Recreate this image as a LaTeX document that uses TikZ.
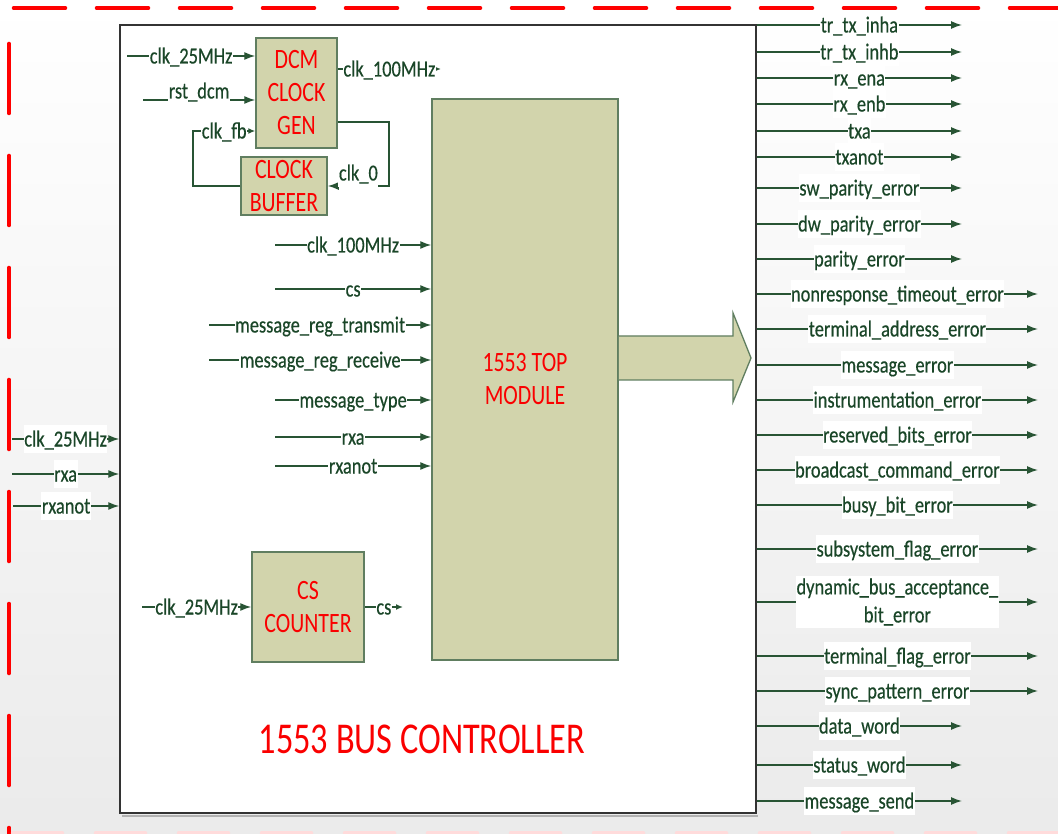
\documentclass[tikz,border=0pt]{standalone}
\usepackage{fontspec}
\setmainfont{Carlito}
\newfontfamily\lblfont{Carlito}[FakeStretch=0.80, FakeBold=0.4]
\newfontfamily\redfont{Carlito}[FakeStretch=0.78]
\usetikzlibrary{arrows.meta}
\definecolor{txtg}{RGB}{26,70,40}
\definecolor{lineg}{RGB}{40,84,52}
\definecolor{boxf}{RGB}{210,212,172}
\definecolor{boxb}{RGB}{96,126,96}
\definecolor{redt}{RGB}{250,0,0}
\begin{document}
\begin{tikzpicture}[x=1pt,y=-1pt,
  sig/.style={draw=lineg, line width=1.4pt, -{Latex[length=11pt,width=8pt]}},
  sigs/.style={draw=lineg, line width=1.4pt, -{Latex[length=7pt,width=6pt]}},
  lblbase/.style={fill=white, text=txtg, inner xsep=0.5pt, inner ysep=4.5pt, font=\lblfont\fontsize{23}{28}\selectfont},
  lbl/.style={lblbase, text height=17pt, text depth=2pt},
  blk/.style={draw=boxb, line width=1.5pt, fill=boxf, text=redt, align=center, font=\redfont\fontsize{28}{33}\selectfont, inner sep=0pt},
  reddash/.style={draw=red, line width=3.5pt, line cap=round}
]
\useasboundingbox (0,0) rectangle (1058,834);
\fill[top color=white, bottom color=black!8] (0,0) rectangle (1058,834);
% red dashed frame
\draw[reddash, dash pattern=on 52pt off 31pt] (13.5,8) -- (1058,8);
\draw[reddash, dash pattern=on 70pt off 42pt] (9,43.5) -- (9,834);
\draw[reddash, draw=red!14, dash pattern=on 50pt off 33pt] (12.5,833) -- (1058,833);
% main box
\draw[black!30, line width=2pt] (122,815.5) -- (758,815.5);
\node[draw=black!80, line width=1.5pt, fill=white, minimum width=636pt, minimum height=788pt, inner sep=0pt] (main) at (438,419) {};
\node[font=\redfont\fontsize{44}{50}\selectfont, text=redt, inner sep=0pt] (title) at (422,739) {1553 BUS CONTROLLER};
% blocks
\node[blk, minimum width=81pt, minimum height=110pt] (dcm) at (296.5,93) {DCM\\CLOCK\\GEN};
\node[blk, minimum width=86pt, minimum height=58pt] (buf) at (284,186) {CLOCK\\BUFFER};
\node[blk, minimum width=112pt, minimum height=110pt] (csc) at (308,607) {CS\\COUNTER};
\node[blk, minimum width=186pt, minimum height=561pt] (top) at (525,379.5) {1553 TOP\\MODULE};
% fat arrow
\draw[draw=boxb, fill=boxf, line width=1.3pt] (top.east |- 0,336) -- (733,336) -- (733,313) -- (751,358) -- (733,402) -- (733,380) -- (top.east |- 0,380);
% DCM inputs
\coordinate (d1) at (127,56);
\coordinate (d2) at (143,100);
\draw[sig] (d1) -- node[lbl] {clk\_25MHz} (d1 -| dcm.west);
\draw[sig] (d2) -- node[lbl, yshift=9pt] {rst\_dcm} (d2 -| dcm.west);
\coordinate (f1) at (193,131);
\draw[sigs] (buf.west) -| (f1) -- node[lbl] {clk\_fb} (f1 -| dcm.west);
\coordinate (k1) at (389,122);
\coordinate (k2) at (389,186);
\draw[sig] (k1 -| dcm.east) -- (k1) -- (k2) -- node[lbl, yshift=13pt] {clk\_0} (k2 -| buf.east);
\coordinate (h1) at (441,69);
\draw[sigs] (h1 -| dcm.east) -- node[lbl] {clk\_100MHz} (h1);
% TOP inputs
\foreach \xs/\ys/\t [count=\i] in {275/245/clk\_100MHz, 275/289/cs, 209/325/message\_reg\_transmit, 209/360/message\_reg\_receive, 275/400/message\_type, 275/437/rxa, 275/466/rxanot}{
  \coordinate (a\i) at (\xs,\ys);
  \draw[sig] (a\i) -- node[lbl] {\t} (a\i -| top.west);
}
% external inputs
\foreach \xs/\ys/\t [count=\i] in {12/439/clk\_25MHz, 12/474/rxa, 13/506/rxanot}{
  \coordinate (e\i) at (\xs,\ys);
  \draw[sig] (e\i) -- node[lbl] {\t} (e\i -| main.west);
}
% CS counter
\coordinate (c1) at (142,607);
\coordinate (c2) at (403,607);
\draw[sig] (c1) -- node[lbl] {clk\_25MHz} (c1 -| csc.west);
\draw[sigs] (c2 -| csc.east) -- node[lbl] {cs} (c2);
% outputs
\foreach \ys/\xe/\t [count=\i] in {25/962/tr\_tx\_inha, 52/962/tr\_tx\_inhb, 78/962/rx\_ena, 104/962/rx\_enb, 131/962/txa, 157/962/txanot, 188/962/sw\_parity\_error, 224/962/dw\_parity\_error, 259/962/parity\_error, 294/1038/nonresponse\_timeout\_error, 329/1038/terminal\_address\_error, 365/1038/message\_error, 400/1038/instrumentation\_error, 435/1038/reserved\_bits\_error, 470/1038/broadcast\_command\_error, 505/1038/busy\_bit\_error, 549/1038/subsystem\_flag\_error, 656/1038/terminal\_flag\_error, 691/1038/sync\_pattern\_error, 726/962/data\_word, 765/962/status\_word, 801/962/message\_send}{
  \coordinate (o\i) at (\xe,\ys);
  \draw[sig] (o\i -| main.east) -- node[lbl] {\t} (o\i);
}
\coordinate (od) at (1038,602);
\draw[sig] (od -| main.east) -- node[lblbase, align=center, inner ysep=2pt] {dynamic\_bus\_acceptance\_\\bit\_error} (od);
\end{tikzpicture}
\end{document}
